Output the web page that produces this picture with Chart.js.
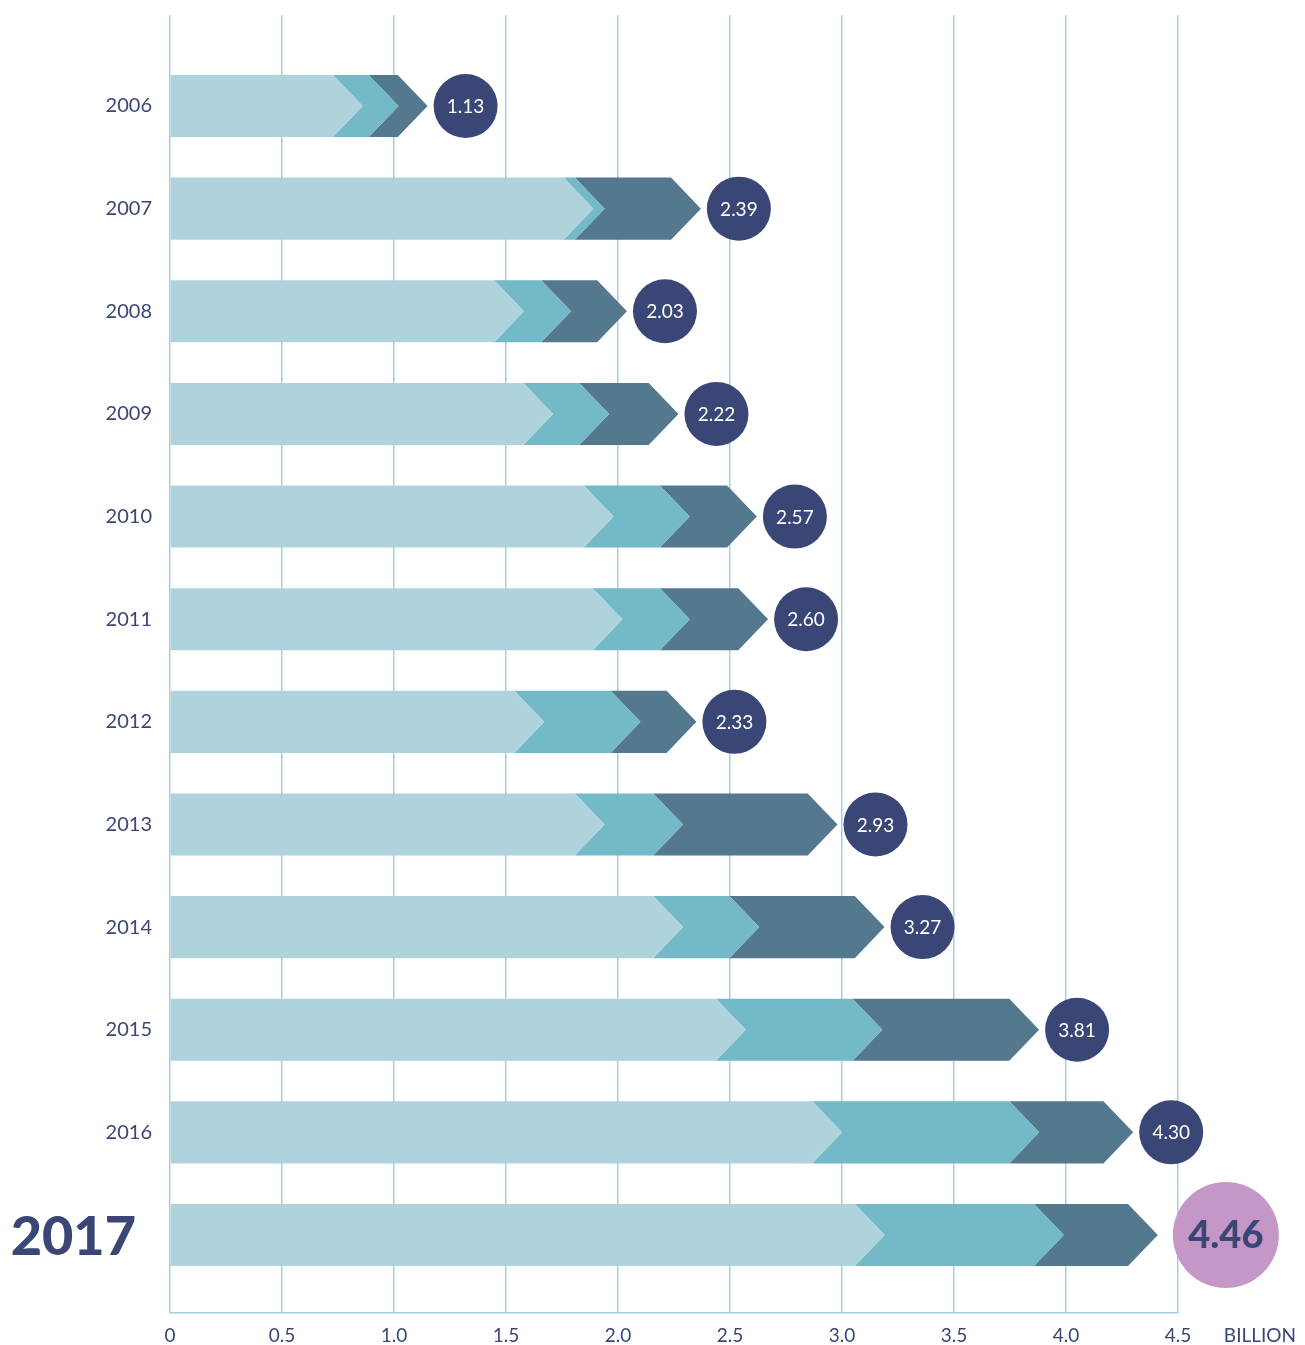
<!DOCTYPE html>
<html>
<head>
<meta charset="utf-8">
<script src="https://cdn.jsdelivr.net/npm/chart.js@4"></script>
<style>
  body { margin: 0; background: #fff; }
  #wrap { width: 1305px; height: 1345px; position: relative; }
</style>
</head>
<body>
<div id="wrap"><canvas id="arrowChart"></canvas></div>
<script>
// data (billion)
const years = ['2006', '2007', '2008', '2009', '2010', '2011', '2012', '2013', '2014', '2015', '2016', '2017'];
const firstPart = [0.86, 1.89, 1.58, 1.71, 1.98, 2.02, 1.67, 1.94, 2.29, 2.57, 3.00, 3.19];
const secondPart = [0.16, 0.05, 0.21, 0.25, 0.34, 0.30, 0.43, 0.35, 0.34, 0.61, 0.88, 0.80];
const thirdPart = [0.13, 0.43, 0.25, 0.31, 0.30, 0.35, 0.25, 0.69, 0.56, 0.70, 0.42, 0.42];
const totals = [1.13, 2.39, 2.03, 2.22, 2.57, 2.60, 2.33, 2.93, 3.27, 3.81, 4.30, 4.46];
const xTicks = [0, 0.5, 1.0, 1.5, 2.0, 2.5, 3.0, 3.5, 4.0, 4.5];

const navy = '#3a4675';
const gridBlue = '#a2cfe0';
const fontName = 'Lato, "Open Sans", sans-serif';

function rowData(values) {
    return values.map((v, i) => ({ x: v, y: i }));
}

// draws each stacked segment as a chevron instead of a plain rectangle
const chevronPlugin = {
    id: 'chevrons',
    beforeDatasetDraw() {
        return false;
    },
    afterDatasetsDraw(chart) {
        const ctx = chart.ctx;
        const count = chart.data.datasets.length;
        ctx.save();
        for (let d = count - 1; d >= 0; d--) {
            const meta = chart.getDatasetMeta(d);
            meta.data.forEach(bar => {
                const p = bar.getProps(['x', 'y', 'base', 'height'], true);
                const top = p.y - p.height / 2;
                const bottom = p.y + p.height / 2;
                const depth = p.height * 0.48;
                ctx.beginPath();
                if (d === 0) {
                    ctx.moveTo(p.base, top);
                    ctx.lineTo(p.x - depth, top);
                    ctx.lineTo(p.x, p.y);
                    ctx.lineTo(p.x - depth, bottom);
                    ctx.lineTo(p.base, bottom);
                } else {
                    ctx.moveTo(p.base - depth, top);
                    ctx.lineTo(p.x - depth, top);
                    ctx.lineTo(p.x, p.y);
                    ctx.lineTo(p.x - depth, bottom);
                    ctx.lineTo(p.base - depth, bottom);
                    ctx.lineTo(p.base, p.y);
                }
                ctx.closePath();
                ctx.fillStyle = bar.options.backgroundColor;
                ctx.fill();
            });
        }

        // total bubbles at the arrow tips
        const lastMeta = chart.getDatasetMeta(count - 1);
        lastMeta.data.forEach((bar, i) => {
            const big = i === totals.length - 1;
            const r = big ? 53 : 32;
            const gap = big ? 15 : 6;
            const cx = bar.x + gap + r;
            ctx.beginPath();
            ctx.arc(cx, bar.y, r, 0, Math.PI * 2);
            ctx.fillStyle = big ? '#c497c6' : navy;
            ctx.fill();
            ctx.fillStyle = big ? navy : '#ffffff';
            ctx.font = (big ? '900 38px ' : '19px ') + fontName;
            ctx.textAlign = 'center';
            ctx.textBaseline = 'middle';
            ctx.fillText(totals[i].toFixed(2), cx, bar.y + 1);
        });

        // year labels
        const yScale = chart.scales.y;
        years.forEach((yr, i) => {
            const big = i === years.length - 1;
            ctx.fillStyle = navy;
            ctx.font = (big ? '900 54px ' : '20px ') + fontName;
            ctx.textAlign = 'right';
            ctx.textBaseline = 'middle';
            ctx.fillText(yr, big ? 136 : 152, yScale.getPixelForValue(i) + (big ? 3 : 0));
        });

        // unit label next to the x ticks
        const xScale = chart.scales.x;
        ctx.font = '19px ' + fontName;
        ctx.textAlign = 'right';
        ctx.textBaseline = 'middle';
        ctx.fillText('BILLION', 1296, xScale.top + 23);
        ctx.restore();
    }
};

const ctxArrows = document.getElementById('arrowChart').getContext('2d');
const arrowChart = new Chart(ctxArrows, {
    type: 'bar',
    data: {
        datasets: [
            { data: rowData(firstPart), backgroundColor: '#afd3dc' },
            { data: rowData(secondPart), backgroundColor: '#73b9c7' },
            { data: rowData(thirdPart), backgroundColor: '#54798f' }
        ]
    },
    options: {
        indexAxis: 'y',
        responsive: true,
        maintainAspectRatio: false,
        animation: false,
        layout: { padding: { left: 170, right: 127, top: 15, bottom: -13 } },
        barPercentage: 0.605,
        categoryPercentage: 1,
        plugins: {
            legend: { display: false },
            tooltip: { enabled: false }
        },
        scales: {
            x: {
                type: 'linear',
                stacked: true,
                min: 0,
                max: 4.5,
                afterBuildTicks: scale => {
                    scale.ticks = xTicks.map(v => ({ value: v }));
                },
                grid: { color: gridBlue, lineWidth: 1.5, drawTicks: false },
                border: { color: gridBlue, width: 1.5 },
                ticks: {
                    padding: 13,
                    color: navy,
                    font: { family: fontName, size: 19, lineHeight: 1 },
                    maxRotation: 0,
                    callback: v => (v === 0 ? '0' : v.toFixed(1))
                }
            },
            y: {
                type: 'linear',
                stacked: true,
                display: false,
                offset: false,
                reverse: true,
                min: -0.887,
                max: 11.76,
                afterBuildTicks: scale => {
                    scale.ticks = years.map((_, i) => ({ value: i }));
                }
            }
        }
    },
    plugins: [chevronPlugin]
});
</script>
</body>
</html>
